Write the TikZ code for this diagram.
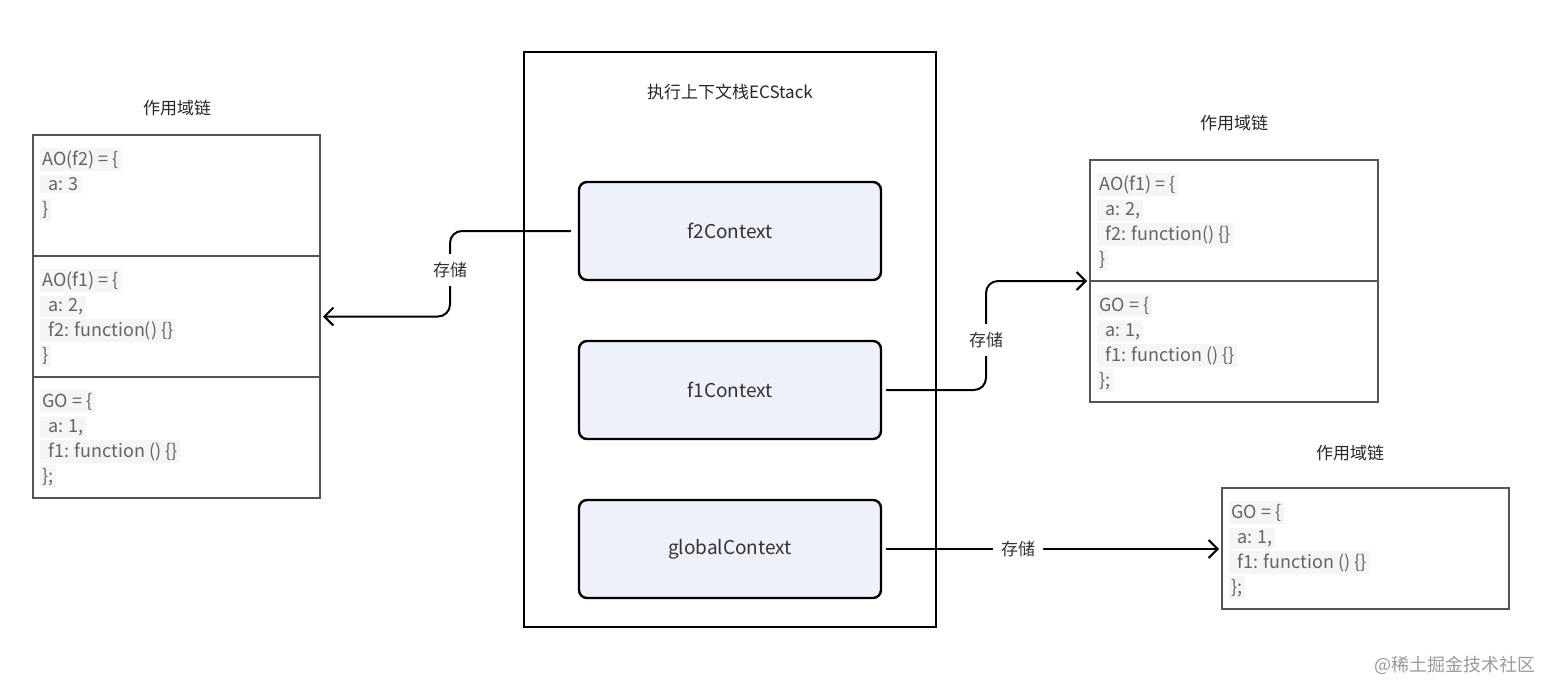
\documentclass[tikz,border=0pt]{standalone}
\usepackage{fontspec}
\setmainfont{Noto Sans CJK SC}
\usetikzlibrary{arrows.meta,positioning}

\definecolor{ctxfill}{RGB}{238,241,250}
\definecolor{codegray}{RGB}{100,100,100}
\definecolor{codebg}{RGB}{245,245,245}
\definecolor{framegray}{RGB}{85,85,85}

\newcommand{\codeline}[1]{{\setlength{\fboxsep}{1.2pt}\colorbox{codebg}{#1}}}

\tikzset{
    chainsec/.style={draw=framegray, line width=0.75pt, minimum width=143.5pt,
        minimum height=60.5pt, inner sep=0pt, outer sep=0pt, anchor=north west},
    codetxt/.style={text=codegray, font=\fontsize{9}{12.5}\selectfont,
        align=left, anchor=north west, inner sep=0pt},
    ctxbox/.style={draw, line width=1.2pt, rounded corners=4pt, fill=ctxfill,
        minimum width=151pt, minimum height=49pt, font=\fontsize{9.5}{11}\selectfont,
        text=black!80},
    ttl/.style={font=\fontsize{8.5}{10}\selectfont, text=black!85},
    lbl/.style={fill=white, inner sep=4pt, font=\fontsize{8.5}{10}\selectfont, text=black!80},
    link/.style={-{Straight Barb[length=4.5pt,width=9pt]}, line width=1pt,
        rounded corners=6pt, shorten <=2pt, shorten >=1.5pt},
}

\begin{document}
\begin{tikzpicture}[x=0.5pt, y=-0.5pt]
    \useasboundingbox (0,0) rectangle (1542,682);

    % execution context stack
    \node[draw, line width=1.25pt, minimum width=206pt, minimum height=287.5pt] (ecstack) at (730,339.5) {};
    \node[ttl] (stacktitle) at (730,92) {执行上下文栈ECStack};

    \node[ctxbox] (f2ctx) at (730,231) {f2Context};
    \node[ctxbox, below=29.3pt of f2ctx] (f1ctx) {f1Context};
    \node[ctxbox, below=29.3pt of f1ctx] (gctx) {globalContext};

    % scope chain of f2
    \node[ttl] (lefttitle) at (177,108) {作用域链};
    \node[chainsec] (lao2) at (33,135) {};
    \node[chainsec, below=0pt of lao2] (lao1) {};
    \node[chainsec, below=0pt of lao1] (lgo) {};

    \node[codetxt, below right=6.5pt and 3.3pt of lao2.north west] (lao2txt)
        {\codeline{AO(f2) = \{}\\ \codeline{\hspace{3pt}a: 3}\\ \codeline{\}}};
    \node[codetxt, below right=6.5pt and 3.3pt of lao1.north west] (lao1txt)
        {\codeline{AO(f1) = \{}\\ \codeline{\hspace{3pt}a: 2,}\\ \codeline{\hspace{3pt}f2: function() \{\}}\\ \codeline{\}}};
    \node[codetxt, below right=6.5pt and 3.3pt of lgo.north west] (lgotxt)
        {\codeline{GO = \{}\\ \codeline{\hspace{3pt}a: 1,}\\ \codeline{\hspace{3pt}f1: function () \{\}}\\ \codeline{\};}};

    % scope chain of f1
    \node[ttl] (righttitle) at (1234,123) {作用域链};
    \node[chainsec, minimum width=144pt] (rao1) at (1090,160) {};
    \node[chainsec, minimum width=144pt, below=0pt of rao1] (rgo) {};

    \node[codetxt, below right=6.5pt and 3.3pt of rao1.north west] (rao1txt)
        {\codeline{AO(f1) = \{}\\ \codeline{\hspace{3pt}a: 2,}\\ \codeline{\hspace{3pt}f2: function() \{\}}\\ \codeline{\}}};
    \node[codetxt, below right=6.5pt and 3.3pt of rgo.north west] (rgotxt)
        {\codeline{GO = \{}\\ \codeline{\hspace{3pt}a: 1,}\\ \codeline{\hspace{3pt}f1: function () \{\}}\\ \codeline{\};}};

    % global scope chain
    \node[ttl] (globaltitle) at (1350,453) {作用域链};
    \node[chainsec] (rgo2) at (1222,488) {};
    \node[codetxt, below right=6.5pt and 3.3pt of rgo2.north west] (rgo2txt)
        {\codeline{GO = \{}\\ \codeline{\hspace{3pt}a: 1,}\\ \codeline{\hspace{3pt}f1: function () \{\}}\\ \codeline{\};}};

    % links
    \coordinate (bend1) at (450,270);
    \coordinate (bend2) at (986,340);
    \draw[link, shorten <=3.5pt] (f2ctx.west) -| (bend1) |- (lao1.east);
    \node[lbl] (store1) at (bend1) {存储};
    \draw[link] (f1ctx.east) -| (bend2) |- (rao1.south west);
    \node[lbl] (store2) at (bend2) {存储};
    \draw[link] (gctx.east) -- node[lbl, pos=0.4] (store3) {存储} (gctx.east -| rgo2.west);

    \node[text=black!40, font=\fontsize{9}{11}\selectfont] (mark) at (1455,665) {@稀土掘金技术社区};
\end{tikzpicture}
\end{document}
